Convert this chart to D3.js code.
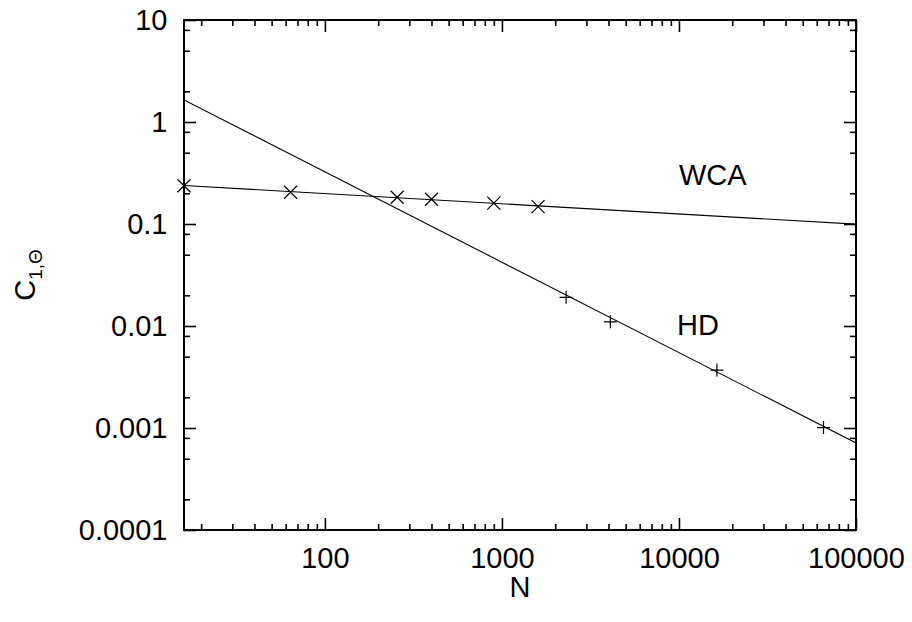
<!DOCTYPE html>
<html>
<head>
<meta charset="utf-8">
<script src="https://cdn.jsdelivr.net/npm/d3@7"></script>
<style>
  html, body { margin: 0; padding: 0; background: #fff; }
  svg { display: block; }
  text { font-family: "Liberation Sans", Arial, sans-serif; fill: #000; }
</style>
</head>
<body>
<svg id="chart" width="912" height="622"></svg>
<script>
// ---- data ----
const wcaN = [16, 64, 256, 400, 900, 1600];
const wcaC = [0.237, 0.205, 0.183, 0.175, 0.160, 0.148];
const hdN = [2304, 4096, 16384, 65536];
const hdC = [0.0191, 0.0110, 0.0037, 0.00101];
// power-law fits C = a * N^(-b)
const wcaFit = [0.315, 0.100];
const hdFit = [19.2, 0.886];
const xDomain = [16, 100000];
const yDomain = [0.0001, 10];
const xTickValues = [100, 1000, 10000, 100000];
const xTickLabels = ["100", "1000", "10000", "100000"];
const yTickValues = [0.0001, 0.001, 0.01, 0.1, 1, 10];
const yTickLabels = ["0.0001", "0.001", "0.01", "0.1", "1", "10"];
const seriesLabels = ["WCA", "HD"];
const labelN = [10000, 9750];
const labelC = [0.241, 0.00816];

// ---- layout ----
const margin = {left: 184, right: 56, top: 20, bottom: 92};
const W = 912, H = 622;
const iw = W - margin.left - margin.right;
const ih = H - margin.top - margin.bottom;

const svg = d3.select("#chart");
const g = svg.append("g").attr("transform", `translate(${margin.left},${margin.top})`);

const x = d3.scaleLog().domain(xDomain).range([0, iw]);
const y = d3.scaleLog().domain(yDomain).range([ih, 0]);

// minor ticks
const xMinor = [];
for (let d = 10; d <= 100000; d *= 10) for (let m = 2; m <= 9; m++) { const v = d * m; if (v > xDomain[0] && v < xDomain[1]) xMinor.push(v); }
const yMinor = [];
for (let d = 0.0001; d < 10; d *= 10) for (const m of [2, 5, 8]) { const v = d * m; if (v > yDomain[0] && v < yDomain[1]) yMinor.push(v); }

const fontSize = 29;
function styleAxis(sel) {
  sel.select(".domain").remove();
  sel.selectAll(".tick line").attr("stroke", "#000").attr("stroke-width", 1.6);
  sel.selectAll(".tick text").style("font-size", fontSize + "px").style("font-family", '"Liberation Sans", Arial, sans-serif');
}

// bottom
g.append("g").attr("transform", `translate(0,${ih})`)
  .call(d3.axisBottom(x).tickValues(xTickValues).tickSize(-12).tickPadding(17)
    .tickFormat((d, i) => xTickLabels[i]))
  .call(styleAxis);
g.append("g").attr("transform", `translate(0,${ih})`)
  .call(d3.axisBottom(x).tickValues(xMinor).tickSize(-6).tickFormat(""))
  .call(styleAxis);
// top
g.append("g")
  .call(d3.axisTop(x).tickValues(xTickValues).tickSize(-12).tickFormat(""))
  .call(styleAxis);
g.append("g")
  .call(d3.axisTop(x).tickValues(xMinor).tickSize(-6).tickFormat(""))
  .call(styleAxis);
// left
g.append("g")
  .call(d3.axisLeft(y).tickValues(yTickValues).tickSize(-12).tickPadding(16.5)
    .tickFormat((d, i) => yTickLabels[i]))
  .call(styleAxis);
g.append("g")
  .call(d3.axisLeft(y).tickValues(yMinor).tickSize(-6).tickFormat(""))
  .call(styleAxis);
// right
g.append("g").attr("transform", `translate(${iw},0)`)
  .call(d3.axisRight(y).tickValues(yTickValues).tickSize(-12).tickFormat(""))
  .call(styleAxis);
g.append("g").attr("transform", `translate(${iw},0)`)
  .call(d3.axisRight(y).tickValues(yMinor).tickSize(-6).tickFormat(""))
  .call(styleAxis);

// frame
g.append("rect").attr("x", 0).attr("y", 0).attr("width", iw).attr("height", ih)
  .attr("fill", "none").attr("stroke", "#000").attr("stroke-width", 2);

// fit lines
g.append("clipPath").attr("id", "clip").append("rect").attr("width", iw).attr("height", ih);
const line = d3.line().x(d => x(d[0])).y(d => y(d[1]));
[wcaFit, hdFit].forEach(f => {
  const pts = xDomain.map(n => [n, f[0] * Math.pow(n, -f[1])]);
  g.append("path").attr("d", line(pts)).attr("fill", "none")
    .attr("stroke", "#000").attr("stroke-width", 1.1).attr("clip-path", "url(#clip)");
});

// markers
const s = 6.5;
g.selectAll(".wca").data(wcaN.map((n, i) => [n, wcaC[i]])).enter().append("path")
  .attr("d", d => { const cx = x(d[0]), cy = y(d[1]); return `M${cx-s},${cy-s}L${cx+s},${cy+s}M${cx-s},${cy+s}L${cx+s},${cy-s}`; })
  .attr("stroke", "#000").attr("stroke-width", 1.2).attr("fill", "none");
g.selectAll(".hd").data(hdN.map((n, i) => [n, hdC[i]])).enter().append("path")
  .attr("d", d => { const cx = x(d[0]), cy = y(d[1]); return `M${cx-s},${cy}L${cx+s},${cy}M${cx},${cy-s}L${cx},${cy+s}`; })
  .attr("stroke", "#000").attr("stroke-width", 1.2).attr("fill", "none");

// series labels
seriesLabels.forEach((t, i) => {
  g.append("text").attr("x", x(labelN[i])).attr("y", y(labelC[i]))
    .style("font-size", fontSize + "px").text(t);
});

// axis titles
svg.append("text").attr("x", margin.left + iw / 2).attr("y", 597)
  .attr("text-anchor", "middle").style("font-size", fontSize + "px").text("N");

const yl = svg.append("text").attr("transform", `translate(35,${margin.top + ih / 2}) rotate(-90)`)
  .attr("text-anchor", "middle").style("font-size", fontSize + "px");
yl.append("tspan").text("C");
yl.append("tspan").attr("dy", 7).style("font-size", "19px").text("1,Θ");
</script>
</body>
</html>
